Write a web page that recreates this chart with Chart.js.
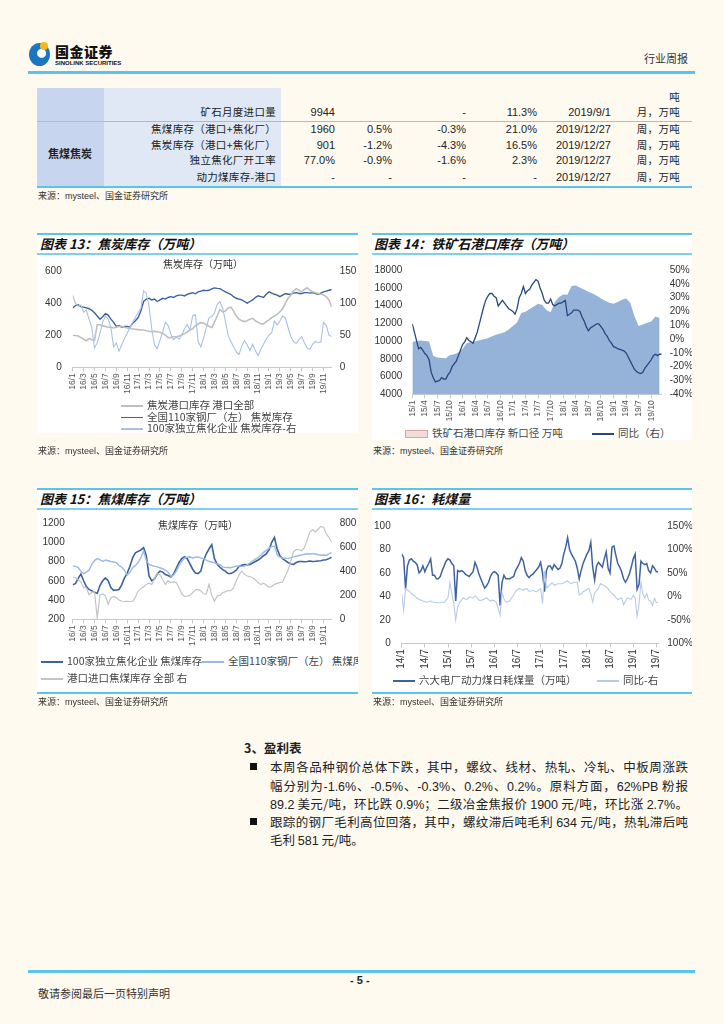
<!DOCTYPE html>
<html lang="zh-CN"><head><meta charset="utf-8">
<title>行业周报 - 焦煤焦炭库存</title>
<script src="https://cdn.jsdelivr.net/npm/chart.js@4"></script>
<style>
  body { margin: 0; background: #fffaf0; }
  .page { position: relative; width: 724px; height: 1024px; overflow: hidden;
    font-family: 'Noto Sans CJK SC', 'Liberation Sans', sans-serif; color: #222; }
  .abs { position: absolute; white-space: nowrap; line-height: 14px; }
  .num { font-family: 'Liberation Sans', sans-serif; font-size: 11px; }
  .cn { font-size: 10.5px; letter-spacing: 0.3px; }
  .rule { position: absolute; background: #5bc3ee; }
  .box { position: absolute; background: #fff; }
  .ttl { position: absolute; font-size: 13px; font-weight: 700; font-style: italic; line-height: 17px; color: #111; white-space: nowrap; }
  .src { position: absolute; font-size: 9px; color: #333; white-space: nowrap; line-height: 12px; }
  .src b { font-family: 'Liberation Sans', sans-serif; font-weight: 400; }
  .lg { position: absolute; font-size: 10.5px; color: #444; white-space: nowrap; line-height: 12px; }
  .lg i { display: inline-block; width: 22px; height: 1.5px; vertical-align: middle; margin-right: 4px; }
  .inner { position: absolute; font-size: 10px; color: #333; white-space: nowrap; }
  canvas { position: absolute; }
  .para { position: absolute; left: 270px; width: 418px; font-size: 12.5px; line-height: 18px;
    text-align: justify; text-align-last: justify; white-space: nowrap; }
  .para.last { text-align-last: left; }
  .para .n { font-family: 'Liberation Sans', sans-serif; }
  .bullet { position: absolute; left: 250px; width: 7px; height: 7px; background: #111; }
</style>
</head>
<body>
<div class="page">
  <!-- header -->
  <div class="abs" style="left:29px; top:43px; width:21px; height:23px; border-radius:50%; background:radial-gradient(circle at 60% 45%, #ffffff 0 4px, #1c76bf 5px);"></div>
  <div class="abs" style="left:40px; top:42px; width:8px; height:8px; border-radius:50%; background:#f6b81a;"></div>
  <div class="abs" style="left:55px; top:43px; font-size:14px; font-weight:900; letter-spacing:0.5px; line-height:16px; color:#111;">国金证券</div>
  <div class="abs" style="left:55px; top:60px; font-family:'Liberation Sans'; font-size:6px; font-weight:700; line-height:7px; color:#111;">SINOLINK SECURITIES</div>
  <div class="abs" style="left:644px; top:51px; font-size:11px; color:#333;">行业周报</div>
  <div class="rule" style="left:28px; top:71px; width:667px; height:2.5px;"></div>

  <!-- table -->
  <div class="abs" style="left:37px; top:88px; width:67px; height:98px; background:#c7d6ee;"></div>
  <div class="abs" style="left:104px; top:88px; width:177px; height:98px; background:#dfe8f4;"></div>
  <div class="abs" style="left:37px; top:120.5px; width:655px; height:1px; background:#a8bcd8;"></div>
  <div class="rule" style="left:37px; top:186px; width:655px; height:2px;"></div>
  <div class="abs cn" style="right:44px; top:90px;">吨</div>
  <div class="abs cn" style="right:448px; top:105px;">矿石月度进口量</div>
  <div class="abs cn" style="right:448px; top:122px;">焦煤库存（港口+焦化厂）</div>
  <div class="abs cn" style="right:448px; top:138px;">焦炭库存（港口+焦化厂）</div>
  <div class="abs cn" style="right:448px; top:153px;">独立焦化厂开工率</div>
  <div class="abs cn" style="right:448px; top:170px;">动力煤库存-港口</div>
  <div class="abs" style="left:48px; top:146px; font-size:11px; font-weight:700;">焦煤焦炭</div>
  <div id="tbl"></div>
  <div class="src" style="left:38px; top:190px;">来源：<b>mysteel</b>、国金证券研究所</div>

  <!-- chart 13 -->
  <div class="box" style="left:37px; top:234px; width:321px; height:199px;"></div>
  <div class="rule" style="left:37px; top:233px; width:321px; height:2px;"></div>
  <div class="ttl" style="left:40px; top:235px;">图表 13：焦炭库存（万吨）</div>
  <div class="rule" style="left:37px; top:253px; width:321px; height:1.5px; background:#7fd0f0;"></div>
  <canvas id="c13" width="321" height="145" style="left:37px; top:254px; width:321px; height:145px;"></canvas>
  <div class="inner" style="left:163px; top:256px;">焦炭库存（万吨）</div>
  <div class="lg" style="left:121px; top:399px;"><i style="background:#bfbfbf"></i>焦炭港口库存 港口全部</div>
  <div class="lg" style="left:121px; top:410.5px;"><i style="background:#3c619e"></i>全国110家钢厂（左） 焦炭库存</div>
  <div class="lg" style="left:121px; top:422px;"><i style="background:#a9c0e3"></i>100家独立焦化企业 焦炭库存-右</div>
  <div class="src" style="left:38px; top:445px;">来源：<b>mysteel</b>、国金证券研究所</div>

  <!-- chart 14 -->
  <div class="box" style="left:372px; top:234px; width:320px; height:206px;"></div>
  <div class="rule" style="left:372px; top:233px; width:320px; height:2px;"></div>
  <div class="ttl" style="left:374px; top:235px;">图表 14：铁矿石港口库存（万吨）</div>
  <div class="rule" style="left:372px; top:253px; width:320px; height:1.5px; background:#7fd0f0;"></div>
  <canvas id="c14" width="320" height="171" style="left:372px; top:254px; width:320px; height:171px;"></canvas>
  <div class="lg" style="left:405px; top:427px;"><i style="background:#f5dada; border:1px solid #d2a9a9; height:6px; width:21px;"></i>铁矿石港口库存 新口径 万吨</div>
  <div class="lg" style="left:592px; top:427px;"><i style="background:#26477f"></i>同比（右）</div>
  <div class="src" style="left:373px; top:445px;">来源：<b>mysteel</b>、国金证券研究所</div>

  <!-- chart 15 -->
  <div class="box" style="left:37px; top:489px; width:321px; height:204px; overflow:hidden;">
    <div class="lg" style="left:165px; top:166px;"><i style="background:#9cb9e2"></i>全国110家钢厂（左） 焦煤库存</div>
  </div>
  <div class="rule" style="left:37px; top:488px; width:321px; height:2px;"></div>
  <div class="ttl" style="left:40px; top:490px;">图表 15：焦煤库存（万吨）</div>
  <div class="rule" style="left:37px; top:508px; width:321px; height:1.5px; background:#7fd0f0;"></div>
  <canvas id="c15" width="321" height="145" style="left:37px; top:509px; width:321px; height:145px;"></canvas>
  <div class="inner" style="left:158px; top:517px;">焦煤库存（万吨）</div>
  <div class="lg" style="left:41px; top:655px;"><i style="background:#3c619e; height:2px;"></i>100家独立焦化企业 焦煤库存</div>
  <div class="lg" style="left:41px; top:672px;"><i style="background:#c4c4c4"></i>港口进口焦煤库存 全部 右</div>
  <div class="rule" style="left:37px; top:692px; width:321px; height:2px;"></div>
  <div class="src" style="left:38px; top:696px;">来源：<b>mysteel</b>、国金证券研究所</div>

  <!-- chart 16 -->
  <div class="box" style="left:372px; top:489px; width:320px; height:204px;"></div>
  <div class="rule" style="left:372px; top:488px; width:320px; height:2px;"></div>
  <div class="ttl" style="left:374px; top:490px;">图表 16：耗煤量</div>
  <div class="rule" style="left:372px; top:508px; width:320px; height:1.5px; background:#7fd0f0;"></div>
  <canvas id="c16" width="320" height="163" style="left:372px; top:509px; width:320px; height:163px;"></canvas>
  <div class="lg" style="left:393px; top:674px;"><i style="background:#3f639f"></i>六大电厂动力煤日耗煤量（万吨）</div>
  <div class="lg" style="left:597px; top:674px;"><i style="background:#b8cbe6"></i>同比-右</div>
  <div class="rule" style="left:372px; top:692px; width:320px; height:2px;"></div>
  <div class="src" style="left:373px; top:696px;">来源：<b>mysteel</b>、国金证券研究所</div>

  <!-- text -->
  <div class="abs" style="left:244px; top:740px; font-size:12.5px; font-weight:700; line-height:16px;">3、盈利表</div>
  <div class="bullet" style="top:763px;"></div>
  <div class="para" style="top:758px;">本周各品种钢价总体下跌，其中，螺纹、线材、热轧、冷轧、中板周涨跌</div>
  <div class="para" style="top:777px;">幅分别为<span class="n">-1.6%</span>、<span class="n">-0.5%</span>、<span class="n">-0.3%</span>、<span class="n">0.2%</span>、<span class="n">0.2%</span>。原料方面，<span class="n">62%PB</span> 粉报</div>
  <div class="para" style="top:795px;"><span class="n">89.2</span> 美元/吨，环比跌 <span class="n">0.9%</span>；二级冶金焦报价 <span class="n">1900</span> 元/吨，环比涨 <span class="n">2.7%</span>。</div>
  <div class="bullet" style="top:818px;"></div>
  <div class="para" style="top:813px;">跟踪的钢厂毛利高位回落，其中，螺纹滞后吨毛利 <span class="n">634</span> 元/吨，热轧滞后吨</div>
  <div class="para last" style="top:831px;">毛利 <span class="n">581</span> 元/吨。</div>

  <!-- footer -->
  <div class="rule" style="left:28px; top:970px; width:667px; height:2.5px;"></div>
  <div class="abs" style="left:350px; top:973px; font-family:'Liberation Sans'; font-size:11px; font-weight:700;">- 5 -</div>
  <div class="abs" style="left:38px; top:986px; font-size:11px; color:#333;">敬请参阅最后一页特别声明</div>
</div>

<script>
// 表格数值
const tableRows = [
  { top: 105, vals: ['9944', '', '-', '11.3%', '2019/9/1', '月，万吨'] },
  { top: 122, vals: ['1960', '0.5%', '-0.3%', '21.0%', '2019/12/27', '周，万吨'] },
  { top: 138, vals: ['901', '-1.2%', '-4.3%', '16.5%', '2019/12/27', '周，万吨'] },
  { top: 153, vals: ['77.0%', '-0.9%', '-1.6%', '2.3%', '2019/12/27', '周，万吨'] },
  { top: 170, vals: ['-', '-', '-', '-', '2019/12/27', '周，万吨'] }
];
const colRight = [335, 392, 466, 537, 611, 680];

let html = '';
tableRows.forEach(r => {
  r.vals.forEach((v, k) => {
    const cls = k === 5 ? 'cn' : 'num';
    html += `<div class="abs ${cls}" style="right:${724 - colRight[k]}px; top:${r.top}px;">${v}</div>`;
  });
});
document.getElementById('tbl').innerHTML = html;

// 图表13 焦炭库存（半月），起点 16/1
const ticks13 = ['16/1','16/3','16/5','16/7','16/9','16/11','17/1','17/3','17/5','17/7','17/9','17/11',
  '18/1','18/3','18/5','18/7','18/9','18/11','19/1','19/3','19/5','19/7','19/9','19/11'];
const cokePort13 = [200,198,195,185,175,165,180,172,170,265,265,258,255,250,250,245,250,255,255,250,
  245,242,240,236,235,233,232,228,225,222,225,220,220,210,200,185,185,190,190,195,
  200,210,220,232,240,260,270,278,275,265,255,248,280,320,360,345,350,370,375,350,
  320,300,290,285,290,300,305,290,280,272,270,285,295,310,320,330,345,365,400,430,
  450,475,490,480,470,485,495,480,470,465,460,455,450,440,420,375];
const cokeMills13 = [370,385,390,378,375,370,365,355,340,320,300,315,335,325,300,280,255,260,250,255,
  255,250,275,290,310,350,410,425,430,420,425,410,420,430,425,435,440,435,445,450,
  450,445,455,460,465,458,470,475,480,478,480,488,495,492,490,480,470,462,455,440,
  430,425,420,410,400,410,420,435,445,440,435,455,470,462,455,450,440,450,460,455,
  455,462,465,460,460,465,465,462,465,460,455,462,470,475,480,485];
const cokePlants13 = [112,100,95,97,86,89,75,62,30,38,53,70,80,75,62,32,38,25,35,45,
  53,62,70,78,85,92,119,115,95,60,35,29,42,55,70,65,52,43,47,44,
  50,60,67,58,80,82,40,32,45,62,77,79,85,98,102,92,72,50,40,32,
  24,20,33,42,35,26,36,26,18,28,36,44,50,54,72,66,72,80,77,62,
  48,40,37,43,48,38,30,28,36,40,39,39,70,65,50,48];

// 图表14 铁矿石港口库存（月）与同比（半月），起点 15/1
const ticks14 = ['15/1','15/4','15/7','15/10','16/1','16/4','16/7','16/10','17/1','17/4','17/7','17/10',
  '18/1','18/4','18/7','18/10','19/1','19/4','19/7','19/10'];
const oreStock14 = [9900,10000,10050,10000,9950,8300,8150,8080,8050,8430,8500,8700,9100,9750,9900,9950,
  10100,10200,10300,10550,10700,10850,11000,11300,11700,12100,13150,13300,13600,13900,
  14200,14050,13500,13250,14400,14950,15250,15200,16200,16250,16000,15800,15550,15350,
  15100,14800,14550,14300,14200,14400,14650,14800,14300,12800,11700,11850,12050,12200,12750,12600];
const oreYoy14 = [11,5,-1,-7,-6,-8,-10.5,-12,-15,-24,-28,-31,-30.5,-30,-28,-29,-29,-26,-24,-20,
  -18,-16,-12,-8,-4,-2,1,-1,-2,-3,1,5,11,17,23,28,31,33,33,31,
  30,24,26,28,26,24,22,21,20,18,22,30,33,38,33,35,36,39,41,43,
  42,37,33,28,26,26,29,25,24,25,26,26,27,28,17,18,19,21,21,21,
  20,16,13,9,6,8,9,10,11,11,9,7,4,2,-1,-3,-5.5,-6,-7,-7.5,
  -8,-8.5,-10,-13,-16,-19,-22,-23.5,-24.5,-25,-24,-21,-19,-17,-15,-12,-11,-12,-11,-11];

// 图表15 焦煤库存（半月），起点 16/1
const ticks15 = ticks13;
const coalPlants15 = [560,570,625,670,600,540,510,495,480,470,550,600,630,600,530,500,505,510,560,630,
  680,750,840,890,905,920,945,860,650,600,620,670,700,690,665,655,640,670,730,790,
  830,850,830,775,720,680,675,700,810,880,930,975,830,770,740,715,700,675,675,690,
  710,750,760,768,765,770,785,800,815,835,860,880,920,1000,1050,930,860,830,810,790,
  775,770,790,800,800,798,800,805,800,802,805,808,815,818,830,845];
const coalMills15 = [755,750,738,700,675,690,710,770,810,830,820,800,815,808,800,795,788,760,740,710,
  660,690,735,760,790,840,910,810,770,760,750,745,735,725,712,690,645,660,700,760,
  800,835,845,850,835,845,848,835,830,815,800,795,785,775,768,745,737,738,735,745,
  752,755,750,752,765,785,805,825,840,865,895,915,940,955,960,870,845,835,835,830,
  840,848,855,862,868,875,880,878,882,878,870,865,868,865,880,895];
const coalPort15 = [350,345,330,310,265,262,205,225,230,10,200,210,195,125,180,188,180,160,150,148,
  150,148,150,185,235,255,270,290,300,290,340,380,370,330,290,320,305,312,305,262,
  212,190,192,200,220,245,248,238,212,210,290,200,150,195,198,220,230,238,238,260,
  320,368,400,375,360,355,345,328,305,288,300,285,265,275,290,298,305,310,360,410,
  480,560,580,578,570,595,660,725,745,725,748,772,765,710,680,640];

// 图表16 六大电厂日耗（半月），起点 14/1
const ticks16 = ['14/1','14/7','15/1','15/7','16/1','16/7','17/1','17/7','18/1','18/7','19/1','19/7'];
const burn16 = [76,73,46,66,71,72,70,69,67,60,62,66,61,65,68,72,58,58,55,55,
  57,62,66,70,72,71,68,66,36,62,61,62,61,59,58,57,59,61,69,65,
  59,55,51,47,49,52,57,60,61,60,58,32,52,58,55,55,55,56,57,62,
  65,68,73,70,62,58,56,58,59,61,63,65,69,60,44,62,66,66,63,67,
  65,63,64,68,76,82,90,80,76,73,70,64,55,62,68,72,76,79,86,65,
  54,66,69,67,65,72,78,64,60,82,83,75,68,65,61,55,52,55,59,65,
  72,76,46,50,70,68,67,68,62,60,66,64,61,61];
const burnYoy16 = [5,-30,17,13,11,6,3,0,-4,-6,-8,-10,-11,-13,-11,-10,-12,-13,-13,-14,
  -13,-12,-13,-8,-3,30,5,-15,-50,-23,-14,-8,-3,-6,-6,-1,-2,-3,1,-2,
  -8,-9,-7,-5,-3,-7,-10,-8,-9,-13,-25,-40,8,-5,-12,-12,-10,-3,3,11,
  14,17,15,13,16,16,11,11,13,11,10,14,17,-15,55,18,21,25,29,24,
  25,27,27,27,29,31,33,29,27,30,30,30,3,5,10,12,14,17,5,-12,
  7,12,17,27,25,23,20,16,10,6,3,-2,-7,-5,-3,-18,-10,-3,-5,-6,
  2,-3,-43,-17,30,5,-3,6,-8,-10,-20,-4,-13,-13];

// x 以月为单位
function pts(arr, step) {
  return arr.map((y, i) => ({ x: i * step, y: y }));
}

function xAxis(max, step, labels, height, size, color) {
  return {
    type: 'linear', min: 0, max: max,
    afterBuildTicks: s => { s.ticks = labels.map((_, k) => ({ value: k * step })); },
    afterFit: s => { s.height = height; },
    ticks: {
      autoSkip: false, minRotation: 90, maxRotation: 90, padding: 2, color: color,
      font: { family: 'Liberation Sans', size: size },
      callback: v => labels[Math.round(v / step)]
    },
    grid: { drawOnChartArea: false, tickLength: 4, color: '#c8c8c8' },
    border: { color: '#c8c8c8' }
  };
}

function yAxis(pos, min, max, step, width, pad, fmt) {
  return {
    position: pos, min: min, max: max,
    afterFit: s => { s.width = width; },
    afterBuildTicks: s => {
      const t = [];
      for (let v = min; v <= max + 1e-9; v += step) t.push({ value: v });
      s.ticks = t;
    },
    ticks: { autoSkip: false, padding: pad, color: '#333', font: { family: 'Liberation Sans', size: 10 },
      callback: fmt || (v => v) },
    grid: { display: false, drawTicks: false },
    border: { display: false }
  };
}

function line(data, color, width, axis) {
  return { type: 'line', data: data, borderColor: color, borderWidth: width, pointRadius: 0,
    tension: 0, fill: false, yAxisID: axis };
}

const base = pad => ({
  responsive: false, animation: false,
  layout: { padding: { top: pad, left: 0, right: 0, bottom: 0 } },
  plugins: { legend: { display: false }, tooltip: { enabled: false } }
});

new Chart(document.getElementById('c13'), {
  type: 'line',
  data: { datasets: [
    line(pts(cokePlants13, 0.5), '#a9c0e3', 1.1, 'y1'),
    line(pts(cokePort13, 0.5), '#bfbfbf', 1.6, 'y'),
    line(pts(cokeMills13, 0.5), '#3c619e', 1.4, 'y')
  ] },
  options: Object.assign(base(8), {
    scales: {
      x: xAxis(47.5, 2, ticks13, 31.7, 8.5, '#555'),
      y: yAxis('left', 0, 600, 200, 35.7, 11),
      y1: yAxis('right', 0, 150, 50, 26.3, 8)
    }
  })
});

new Chart(document.getElementById('c14'), {
  type: 'line',
  data: { datasets: [
    line(pts(oreYoy14, 0.5), '#26477f', 1.3, 'y1'),
    Object.assign(line(pts(oreStock14, 1), '#95b3d8', 0, 'y'), { fill: 'start', backgroundColor: '#95b3d8' })
  ] },
  options: Object.assign(base(8.7), {
    scales: {
      x: xAxis(59.5, 3, ticks14, 30.7, 8.5, '#555'),
      y: yAxis('left', 4000, 18000, 2000, 40.3, 10),
      y1: yAxis('right', -40, 50, 10, 30.3, 8, v => v + '%')
    }
  })
});

new Chart(document.getElementById('c15'), {
  type: 'line',
  data: { datasets: [
    line(pts(coalPort15, 0.5), '#c4c4c4', 1.2, 'y1'),
    line(pts(coalMills15, 0.5), '#9cb9e2', 1.4, 'y'),
    line(pts(coalPlants15, 0.5), '#3c619e', 1.6, 'y')
  ] },
  options: Object.assign(base(6), {
    scales: {
      x: xAxis(47.5, 2, ticks15, 34.7, 8.5, '#555'),
      y: yAxis('left', 200, 1200, 200, 35.7, 8),
      y1: yAxis('right', 0, 800, 200, 26.3, 8)
    }
  })
});

new Chart(document.getElementById('c16'), {
  type: 'line',
  data: { datasets: [
    line(pts(burnYoy16, 0.5), '#b8cbe6', 1.1, 'y1'),
    line(pts(burn16, 0.5), '#3f639f', 1.5, 'y')
  ] },
  options: Object.assign(base(9.3), {
    scales: {
      x: xAxis(66.5, 6, ticks16, 28.7, 10, '#333'),
      y: yAxis('left', 0, 100, 20, 29.7, 11),
      y1: yAxis('right', -100, 150, 50, 33.7, 9, v => (v === -100 ? 100 : v) + '%')
    }
  })
});
</script>
</body></html>
